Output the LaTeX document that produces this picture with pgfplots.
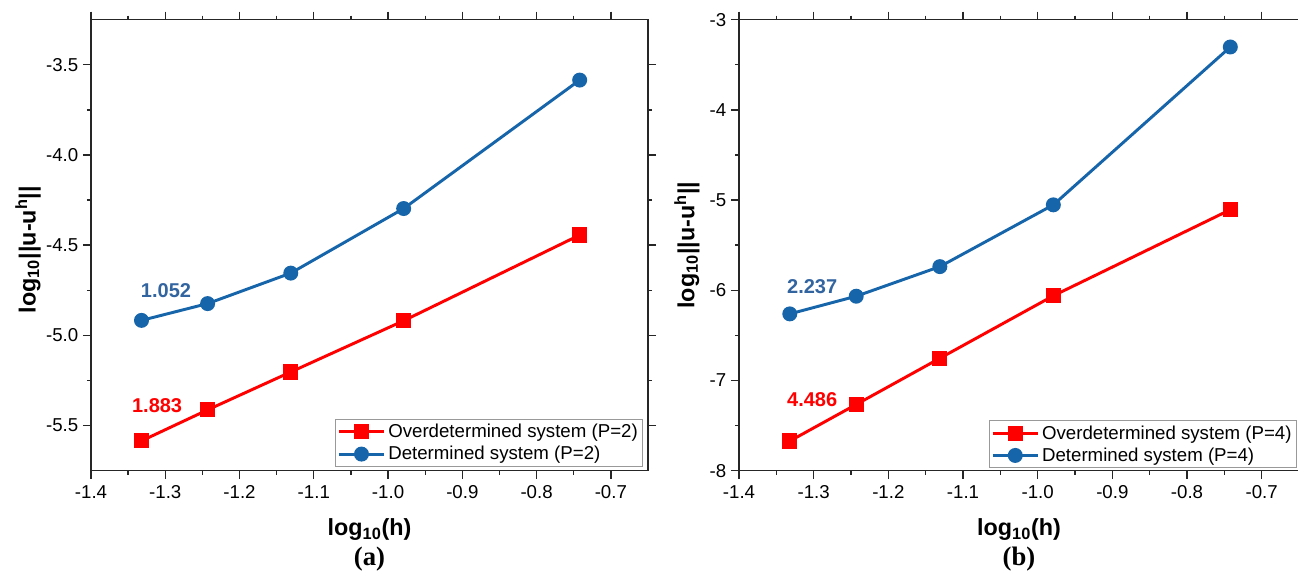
\documentclass[border=0pt]{standalone}
\usepackage{fontspec}
\setmainfont{Liberation Sans}
\newfontfamily\timesfont{Liberation Serif}
\usepackage{pgfplots}
\pgfplotsset{compat=1.18}

\definecolor{myred}{RGB}{255,0,0}
\definecolor{myblue}{RGB}{22,101,170}
\definecolor{labblue}{RGB}{50,100,160}

% shared look of both panels
\pgfplotsset{
  convstyle/.style={
    scale only axis,
    anchor=south west,
    height=338.25pt,
    xmin=-1.4, xmax=-0.65,
    xtick={-1.4,-1.3,-1.2,-1.1,-1.0,-0.9,-0.8,-0.7},
    minor tick num=1,
    tick pos=both,
    tick align=outside,
    major tick length=6pt,
    minor tick length=3pt,
    axis line style={line width=1pt, black!85},
    every tick/.style={line width=1pt, black!85},
    tick label style={font=\fontsize{14}{16}\selectfont},
    xticklabel style={yshift=-1.5pt, /pgf/number format/.cd, fixed, fixed zerofill, precision=1, assume math mode=true},
    yticklabel style={/pgf/number format/assume math mode=true},
    every axis plot/.append style={line width=2.2pt},
    legend style={draw=black!40, line width=0.8pt, anchor=south east,
      font=\fontsize{14}{16}\selectfont, inner sep=1.5pt, row sep=1pt,
      /tikz/every even column/.append style={column sep=2pt}},
    legend cell align=left,
    legend image code/.code={\draw[mark repeat=2,mark phase=2] plot coordinates {(0pt,0pt) (17pt,0pt) (34pt,0pt)};},
    xlabel style={at={(axis description cs:0.5,-0.131)}, anchor=center, font=\bfseries\fontsize{17.5}{19}\selectfont},
    ylabel style={rotate=0, anchor=center, font=\bfseries\fontsize{17.5}{19}\selectfont},
  }
}

\begin{document}
\begin{tikzpicture}
\useasboundingbox (0,0) rectangle (973.5pt,435pt);

% (a)  P = 2
\begin{axis}[convstyle, name=pa,
  at={(68.25pt,82pt)},
  width=417.75pt,
  ymin=-5.75, ymax=-3.25,
  ytick={-5.5,-5.0,-4.5,-4.0,-3.5},
  yticklabel style={/pgf/number format/.cd, fixed, fixed zerofill, precision=1},
  xlabel={log\textsubscript{10}(h)},
  ylabel={log\textsubscript{10}||u-u\textsuperscript{h}||},
  ylabel style={at={(axis description cs:-0.113,0.49)}},
  legend style={at={(axis description cs:0.991,0.008)}},
]
\addplot[myred, mark=square*, mark size=4.6pt] coordinates {
  (-1.332,-5.585) (-1.243,-5.413) (-1.131,-5.203) (-0.979,-4.919) (-0.742,-4.444)
};
\addlegendentry{Overdetermined system (P=2)}
\addplot[myblue, mark=*, mark size=4.5pt] coordinates {
  (-1.332,-4.917) (-1.243,-4.824) (-1.131,-4.655) (-0.979,-4.297) (-0.742,-3.585)
};
\addlegendentry{Determined system (P=2)}
\node[labblue, font=\bfseries\fontsize{15}{17}\selectfont] at (axis cs:-1.299,-4.752) {1.052};
\node[myred, font=\bfseries\fontsize{15}{17}\selectfont] at (axis cs:-1.311,-5.39) {1.883};
\end{axis}

% (b)  P = 4
\begin{axis}[convstyle, name=pb,
  at={(554.25pt,82pt)},
  width=420pt,
  ymin=-8, ymax=-3,
  ytick={-8,-7,-6,-5,-4,-3},
  xlabel={log\textsubscript{10}(h)},
  ylabel={log\textsubscript{10}||u-u\textsuperscript{h}||},
  ylabel style={at={(axis description cs:-0.093,0.5)}},
  legend style={at={(axis description cs:0.996,0.005)}},
]
\addplot[myred, mark=square*, mark size=4.6pt] coordinates {
  (-1.332,-7.672) (-1.243,-7.266) (-1.131,-6.754) (-0.979,-6.061) (-0.742,-5.107)
};
\addlegendentry{Overdetermined system (P=4)}
\addplot[myblue, mark=*, mark size=4.5pt] coordinates {
  (-1.332,-6.262) (-1.243,-6.066) (-1.131,-5.738) (-0.979,-5.053) (-0.742,-3.303)
};
\addlegendentry{Determined system (P=4)}
\node[labblue, font=\bfseries\fontsize{15}{17}\selectfont] at (axis cs:-1.302,-5.957) {2.237};
\node[myred, font=\bfseries\fontsize{15}{17}\selectfont] at (axis cs:-1.302,-7.215) {4.486};
\end{axis}

\node[font=\timesfont\bfseries\fontsize{20}{22}\selectfont, yshift=-66pt] at (pa.south) {(a)};
\node[font=\timesfont\bfseries\fontsize{20}{22}\selectfont, yshift=-66pt] at (pb.south) {(b)};
\end{tikzpicture}
\end{document}
